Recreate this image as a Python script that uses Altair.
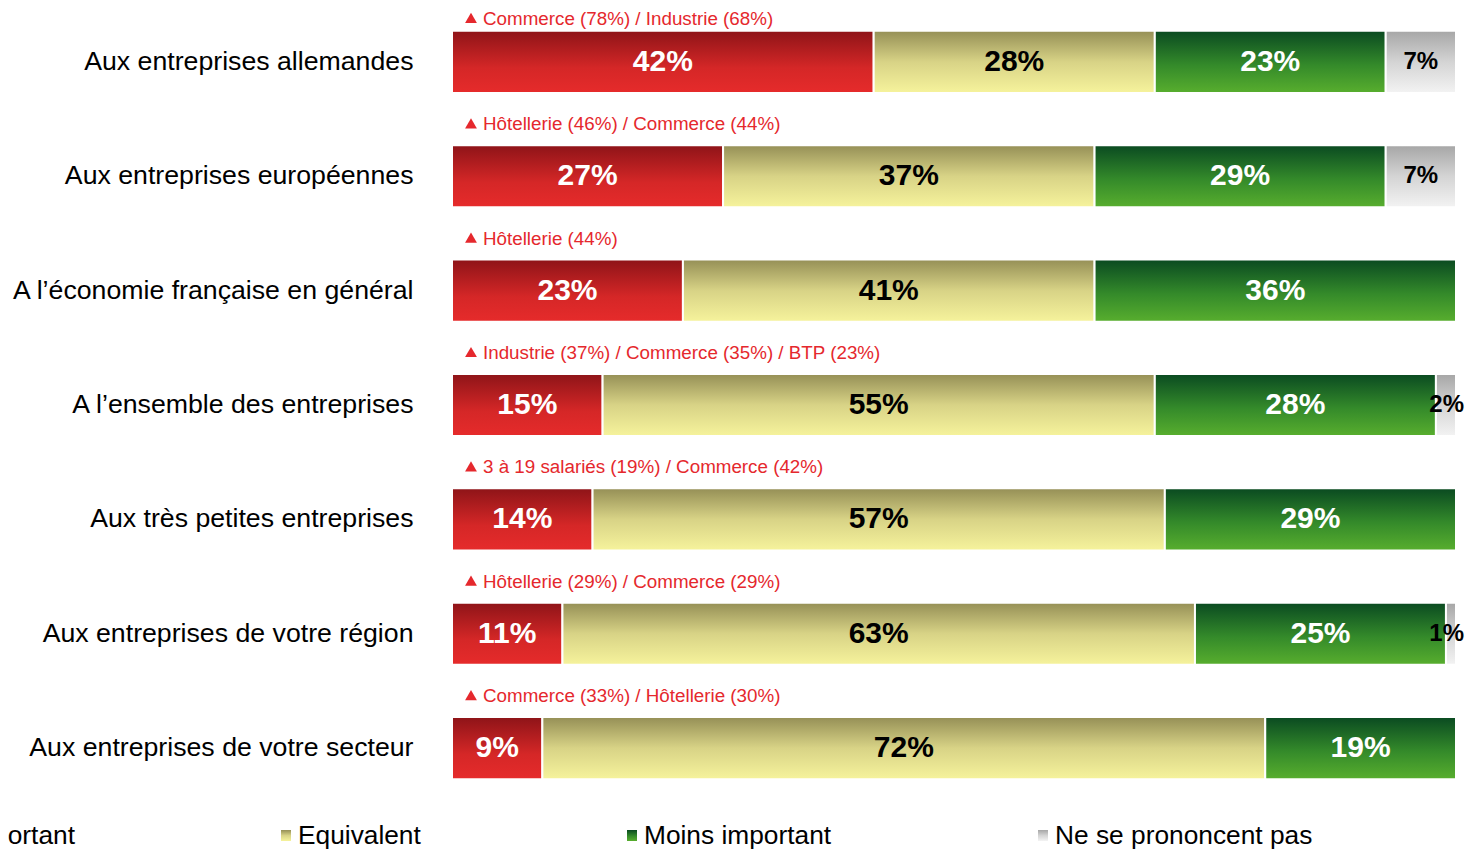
import altair as alt
import pandas as pd

categories = [
    "Aux entreprises allemandes",
    "Aux entreprises européennes",
    "A l’économie française en général",
    "A l’ensemble des entreprises",
    "Aux très petites entreprises",
    "Aux entreprises de votre région",
    "Aux entreprises de votre secteur",
]
series_names = ["Plus important", "Equivalent", "Moins important", "Ne se prononcent pas"]
plus_important = [42, 27, 23, 15, 14, 11, 9]
equivalent = [28, 37, 41, 55, 57, 63, 72]
moins_important = [23, 29, 36, 28, 29, 25, 19]
ne_se_prononcent_pas = [7, 7, 0, 2, 0, 1, 0]
annotations = [
    "Commerce (78%) / Industrie (68%)",
    "Hôtellerie (46%) / Commerce (44%)",
    "Hôtellerie (44%)",
    "Industrie (37%) / Commerce (35%) / BTP (23%)",
    "3 à 19 salariés (19%) / Commerce (42%)",
    "Hôtellerie (29%) / Commerce (29%)",
    "Commerce (33%) / Hôtellerie (30%)",
]

series_values = [plus_important, equivalent, moins_important, ne_se_prononcent_pas]
rows = []
for si, (name, vals) in enumerate(zip(series_names, series_values)):
    for ci, cat in enumerate(categories):
        rows.append({"cat": cat, "series": name, "order": si, "value": vals[ci]})
df = pd.DataFrame(rows)
ann_df = pd.DataFrame({"cat": categories, "ann": annotations, "idx": list(range(len(categories)))})

FONT = "Liberation Sans"
RED_TXT = "#E5282D"


def grad(c0, cm, c1, mid=0.55):
    return alt.LinearGradient(
        gradient="linear",
        stops=[
            alt.GradientStop(color=c0, offset=0),
            alt.GradientStop(color=cm, offset=mid),
            alt.GradientStop(color=c1, offset=1),
        ],
        x1=0, x2=0, y1=0, y2=1,
    )


grads = [
    grad("#8E1418", "#D52727", "#E62B2B", 0.6),
    grad("#958F56", "#D8D386", "#F6F39C", 0.5),
    grad("#0A4A21", "#348A2A", "#58AE2E", 0.55),
    grad("#A6A6A6", "#D4D4D4", "#F3F3F3", 0.5),
]
text_colors = ["white", "black", "white", "black"]
text_sizes = [30, 30, 30, 24]

xscale = alt.Scale(domain=[0, 100], nice=False, zero=True)
yscale = alt.Scale(paddingInner=0.4577, paddingOuter=0.2)
yaxis = alt.Axis(
    title=None, domain=False, ticks=False, labelFontSize=26.7, labelFont=FONT,
    labelColor="black", labelPadding=39, labelLimit=700,
)
Y = alt.Y("cat:N", sort=categories, scale=yscale, axis=yaxis)

base = (
    alt.Chart(df)
    .transform_stack(stack="value", groupby=["cat"], as_=["x0", "x1"],
                     sort=[alt.SortField("order", order="ascending")])
    .transform_calculate(mid="(datum.x0 + datum.x1) / 2", label="datum.value + '%'")
)

layers = []
for si, name in enumerate(series_names):
    f = (alt.datum.series == name) & (alt.datum.value > 0)
    bars = base.transform_filter(f).mark_bar(
        fill=grads[si], stroke="white", strokeWidth=2
    ).encode(
        x=alt.X("x0:Q", scale=xscale, axis=None),
        x2="x1:Q",
        y=Y,
    )
    layers.append(bars)
    if si < 3:
        txt = base.transform_filter(f).mark_text(
            font=FONT, fontWeight="bold", fontSize=text_sizes[si], color=text_colors[si],
            baseline="middle", align="center",
        ).encode(x=alt.X("mid:Q", scale=xscale, axis=None), y=Y, text="label:N")
        layers.append(txt)
    else:
        wide = f & (alt.datum.value >= 5)
        narrow = f & (alt.datum.value < 5)
        txt_w = base.transform_filter(wide).mark_text(
            font=FONT, fontWeight="bold", fontSize=text_sizes[si], color=text_colors[si],
            baseline="middle", align="center",
        ).encode(x=alt.X("mid:Q", scale=xscale, axis=None), y=Y, text="label:N")
        # tiny segments: label overhangs the bar end, kept inside the picture
        txt_n = base.transform_filter(narrow).mark_text(
            font=FONT, fontWeight="bold", fontSize=text_sizes[si], color=text_colors[si],
            baseline="middle", align="right", dx=8,
        ).encode(x=alt.X("x1:Q", scale=xscale, axis=None), y=Y, text="label:N")
        layers += [txt_w, txt_n]

# first row's note sits closer to its bar (top of the picture)
for cond, off in [(alt.datum.idx == 0, -43), (alt.datum.idx > 0, -52)]:
    ann_text = alt.Chart(ann_df).transform_filter(cond).mark_text(
        align="left", baseline="middle", dy=off, fontSize=18.8, font=FONT, color=RED_TXT
    ).encode(x=alt.value(31), y=Y, text="ann:N")
    ann_tri = alt.Chart(ann_df).transform_filter(cond).mark_point(
        shape="triangle-up", filled=True, size=140, color=RED_TXT, opacity=1,
        yOffset=off - 1, strokeWidth=0,
    ).encode(x=alt.value(19), y=Y)
    layers += [ann_text, ann_tri]

one = pd.DataFrame({"k": [0]})
leg_text_x = [-377, -154, 192, 603]
leg_aligns = ["right", "left", "left", "left"]
leg_marker_x = [-558, -171, 175, 586]
leg_base = 836
for si, name in enumerate(series_names):
    mk = alt.Chart(one).mark_rect(fill=grads[si]).encode(
        x=alt.value(leg_marker_x[si]), x2=alt.value(leg_marker_x[si] + 10),
        y=alt.value(leg_base - 14), y2=alt.value(leg_base - 3),
    )
    tx = alt.Chart(one).mark_text(
        align=leg_aligns[si], baseline="alphabetic", fontSize=26.3, font=FONT, color="black"
    ).encode(x=alt.value(leg_text_x[si]), y=alt.value(leg_base), text=alt.value(name))
    layers += [mk, tx]

chart = alt.layer(*layers).properties(
    width=1004, height=794,
    autosize=alt.AutoSizeParams(type="none"),
    padding={"left": 444, "top": 0, "right": 9, "bottom": 48},
).configure_view(stroke=None)

chart.save("out.html", embed_options={"renderer": "svg", "actions": False})
